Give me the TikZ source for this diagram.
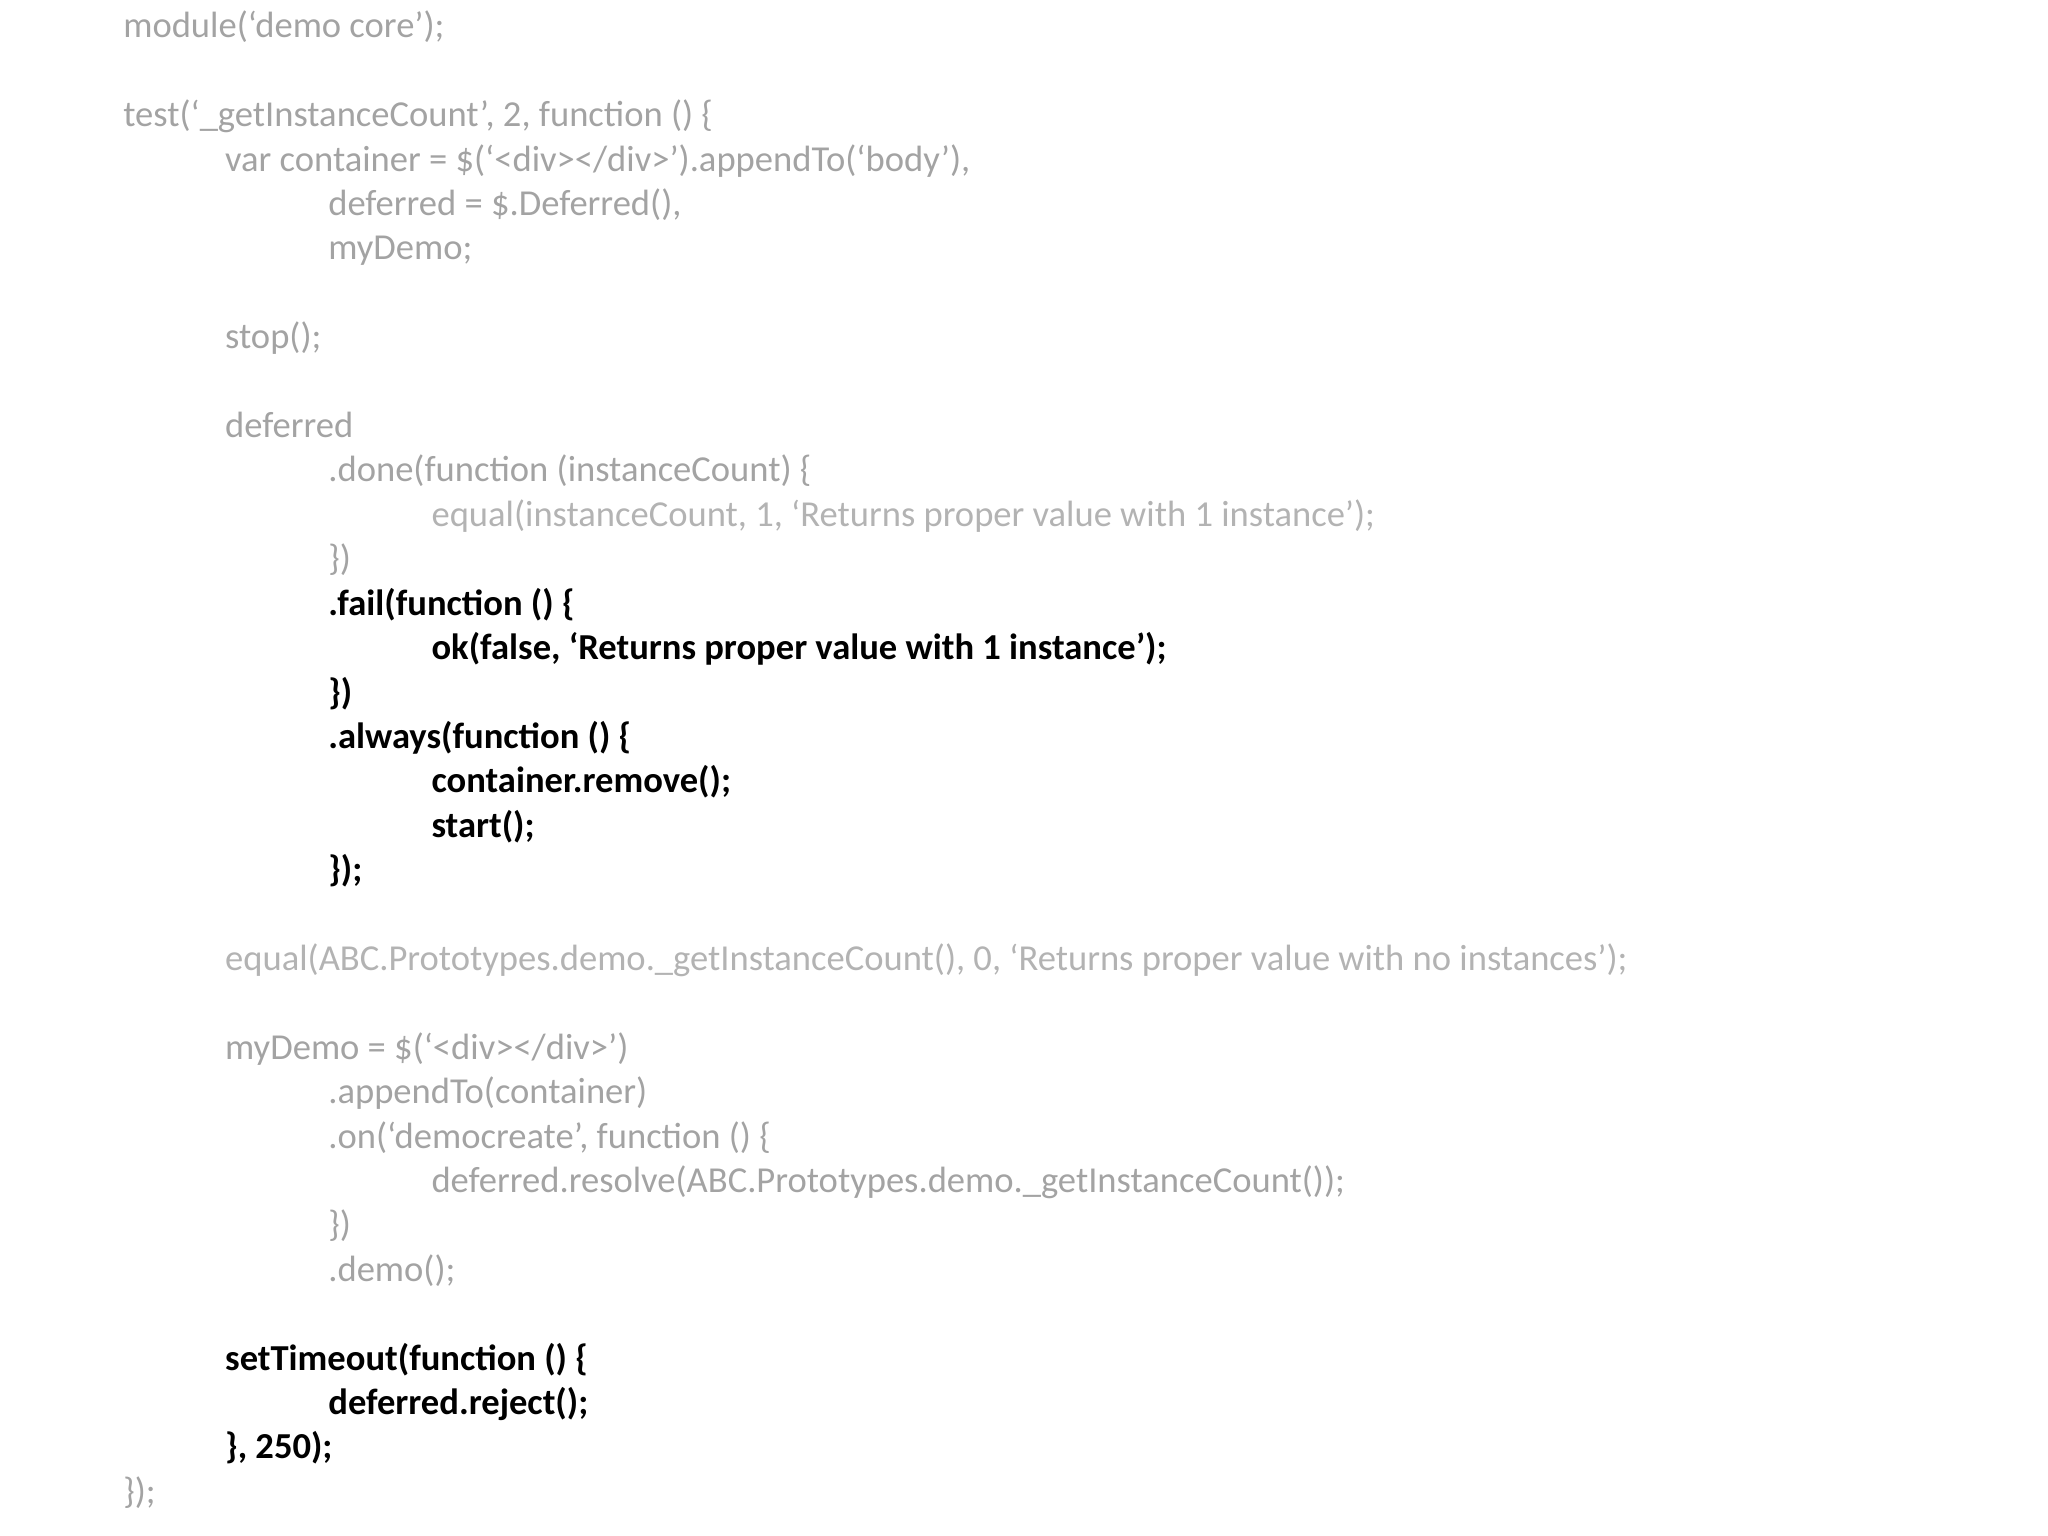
\documentclass[tikz,border=0pt]{standalone}
\usepackage{fontspec}
\setmainfont{Carlito}
\definecolor{g1}{HTML}{A3A3A3}
\definecolor{g2}{HTML}{B3B3B3}
\begin{document}
\begin{tikzpicture}[x=0.5pt,y=-0.5pt,
  c/.style={anchor=base west,inner sep=0pt,font=\fontsize{14}{17}\selectfont,text=g1},
  l/.style={c,text=g2},
  b/.style={c,text=black,font=\fontsize{14}{17}\selectfont\bfseries}]
\useasboundingbox (0,0) rectangle (1568,1176);
\node[c] (n1) at (94,29) {module(‘demo core’);};
\node[c] (n2) at (94,97) {test(‘\_getInstanceCount’, 2, function () \{};
\node[c] (n3) at (172,131) {var container = \$(‘<div></div>’).appendTo(‘body’),};
\node[c] (n4) at (251,165) {deferred = \$.Deferred(),};
\node[c] (n5) at (251,199) {myDemo;};
\node[c] (n6) at (172,267) {stop();};
\node[c] (n7) at (172,335) {deferred};
\node[c] (n8) at (251,369) {.done(function (instanceCount) \{};
\node[l] (n9) at (330,403) {equal(instanceCount, 1, ‘Returns proper value with 1 instance’);};
\node[c] (n10) at (251,437) {\})};
\node[b] (n11) at (251,471) {.fail(function () \{};
\node[b] (n12) at (330,505) {ok(false, ‘Returns proper value with 1 instance’);};
\node[b] (n13) at (251,539) {\})};
\node[b] (n14) at (251,573) {.always(function () \{};
\node[b] (n15) at (330,607) {container.remove();};
\node[b] (n16) at (330,641) {start();};
\node[b] (n17) at (251,675) {\});};
\node[l] (n18) at (172,743) {equal(ABC.Prototypes.demo.\_getInstanceCount(), 0, ‘Returns proper value with no instances’);};
\node[c] (n19) at (172,811) {myDemo = \$(‘<div></div>’)};
\node[c] (n20) at (251,845) {.appendTo(container)};
\node[c] (n21) at (251,879) {.on(‘democreate’, function () \{};
\node[c] (n22) at (330,913) {deferred.resolve(ABC.Prototypes.demo.\_getInstanceCount());};
\node[c] (n23) at (251,947) {\})};
\node[c] (n24) at (251,981) {.demo();};
\node[b] (n25) at (172,1049) {setTimeout(function () \{};
\node[b] (n26) at (251,1083) {deferred.reject();};
\node[b] (n27) at (172,1117) {\}, 250);};
\node[c] (n28) at (94,1151) {\});};
\end{tikzpicture}
\end{document}
